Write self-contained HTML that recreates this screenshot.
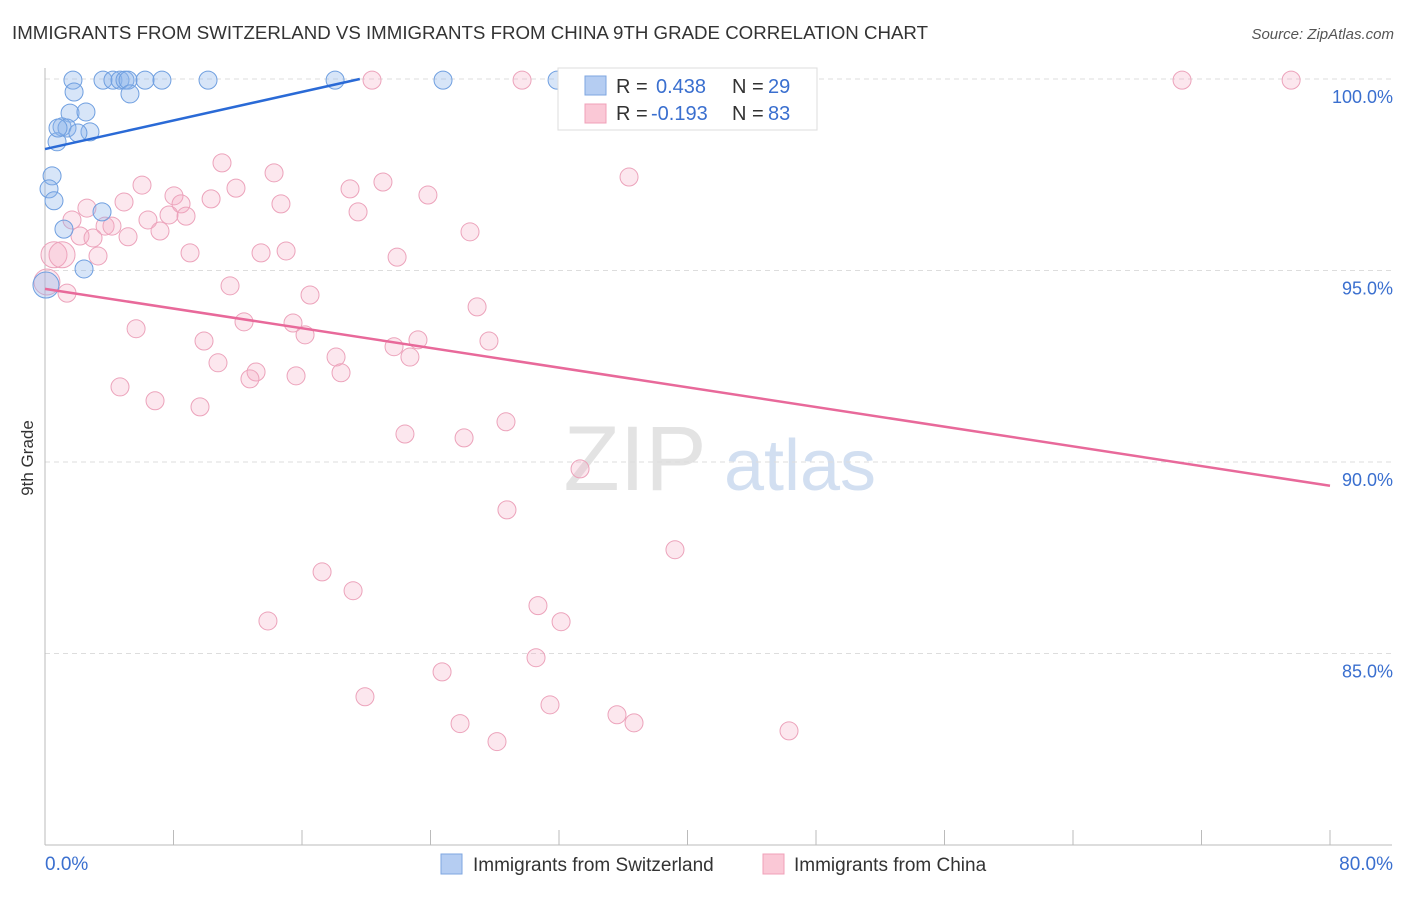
<!DOCTYPE html>
<html><head><meta charset="utf-8"><style>
body{margin:0;background:#fff;font-family:"Liberation Sans",sans-serif}
svg text{font-family:"Liberation Sans",sans-serif}
</style></head><body>
<svg id="c" width="1406" height="892">
<text x="12" y="39" font-size="18" fill="#333" textLength="916" lengthAdjust="spacingAndGlyphs">IMMIGRANTS FROM SWITZERLAND VS IMMIGRANTS FROM CHINA 9TH GRADE CORRELATION CHART</text>
<text x="1394" y="39" font-size="15" fill="#555" font-style="italic" text-anchor="end">Source: ZipAtlas.com</text>
<text x="33" y="458" font-size="17" fill="#333" text-anchor="middle" transform="rotate(-90 33 458)">9th Grade</text>
<g><text x="635" y="490" font-size="92" fill="#ddd" font-family="Liberation Serif" text-anchor="middle" opacity="0.8">ZIP</text><text x="800" y="490" font-size="72" fill="#c8d8ee" text-anchor="middle" opacity="0.8">atlas</text></g>
<g id="grid"></g><g id="pts"></g><g id="lines"></g>
<g>
<rect x="558" y="68" width="259" height="62" fill="#fff" stroke="#ddd"/>
<rect x="585" y="76" width="21" height="19" fill="#b5cdf2" stroke="#7ea6e0"/>
<rect x="585" y="104" width="21" height="19" fill="#fac8d6" stroke="#f0a0b8"/>
<text x="616" y="93" font-size="20" fill="#333">R = </text><text x="656" y="93" font-size="20" fill="#3a6fcf">0.438</text>
<text x="732" y="93" font-size="20" fill="#333">N = </text><text x="768" y="93" font-size="20" fill="#3a6fcf">29</text>
<text x="616" y="120" font-size="20" fill="#333">R = </text><text x="651" y="120" font-size="20" fill="#3a6fcf">-0.193</text>
<text x="732" y="120" font-size="20" fill="#333">N = </text><text x="768" y="120" font-size="20" fill="#3a6fcf">83</text>
</g>
<g>
<rect x="441" y="854" width="21" height="20" fill="#b5cdf2" stroke="#7ea6e0"/>
<text x="473" y="871" font-size="19" fill="#333">Immigrants from Switzerland</text>
<rect x="763" y="854" width="21" height="20" fill="#fac8d6" stroke="#f0a0b8"/>
<text x="794" y="871" font-size="19" fill="#333">Immigrants from China</text>
</g>
</svg>
<script>
const yTicks=[100,95,90,85];
const xTickLabels=["0.0%","80.0%"];
const swX=[1.74,3.61,4.23,4.67,4.98,5.17,6.23,7.28,10.15,18.06,24.78,31.88,1.81,5.29,1.56,2.55,1.06,1.37,2.80,2.05,0.75,0.44,0.25,0.56,1.18,3.55,2.43,0.06,0.81];
const swY=[99.97,99.97,99.97,99.97,99.97,99.97,99.97,99.97,99.97,99.97,99.97,99.97,99.66,99.61,99.11,99.14,98.75,98.72,98.62,98.59,98.36,97.47,97.13,96.82,96.08,96.53,95.04,94.62,98.72];
const cnX=[20.36,29.70,33.00,40.90,70.79,77.58,0.56,1.06,0.12,1.37,11.02,14.26,6.04,11.89,18.99,21.04,23.84,36.36,8.03,10.34,8.47,4.92,2.61,14.69,19.49,1.68,6.41,7.72,8.78,3.74,4.17,7.16,2.18,2.99,5.17,26.46,9.03,13.45,15.01,21.92,3.30,11.52,16.50,26.90,5.67,12.39,15.44,16.19,9.90,21.73,23.22,27.64,18.12,22.72,10.77,13.14,18.43,12.76,15.63,4.67,6.85,9.65,22.41,26.09,28.70,33.31,28.76,39.22,17.25,19.18,30.69,13.88,32.13,30.57,24.72,19.92,31.44,35.61,25.84,36.67,28.14,46.32];
const cnY=[99.97,99.97,99.97,99.97,99.97,99.97,95.41,95.41,94.70,94.41,97.81,97.55,97.23,97.15,97.13,97.31,96.97,97.44,96.95,96.87,96.74,96.79,96.63,96.74,96.53,96.32,96.32,96.45,96.42,96.16,96.16,96.03,95.90,95.85,95.88,96.01,95.46,95.46,95.51,95.35,95.38,94.60,94.36,94.05,93.48,93.66,93.63,93.32,93.16,93.01,93.19,93.16,92.74,92.74,92.59,92.35,92.33,92.17,92.25,91.96,91.60,91.44,90.73,90.63,91.05,89.82,88.75,87.71,87.13,86.64,86.25,85.85,85.83,84.89,84.52,83.87,83.66,83.40,83.17,83.19,82.70,82.98];
const swTrend=[[0,98.17],[19.6,100]];
const cnTrend=[[0,94.52],[80,89.38]];
const X=v=>45+v/80*1285, Y=v=>79+(100-v)*38.3;
const NS="http://www.w3.org/2000/svg";
function mk(p,t,a){const e=document.createElementNS(NS,t);for(const k in a)e.setAttribute(k,a[k]);p.appendChild(e);return e;}
const g=document.getElementById('grid');
yTicks.forEach(t=>{const l=mk(g,'line',{x1:45,x2:1392,y1:Y(t),y2:Y(t),stroke:'#ddd','stroke-dasharray':'5,4'});


const tx=mk(g,'text',{x:1393,y:Y(t)+24,'font-size':18,fill:'#3a6fcf','text-anchor':'end'});tx.textContent=t.toFixed(1)+'%';

});
const ax=mk(g,'line',{x1:45,x2:45,y1:68,y2:845,stroke:'#bbb'});


const bx=mk(g,'line',{x1:45,x2:1392,y1:845,y2:845,stroke:'#bbb'});


for(let i=0;i<=10;i++){const t=mk(g,'line',{x1:X(i*8),x2:X(i*8),y1:830,y2:845,stroke:'#bbb'});

}
[[0,'start',45],[80,'end',1393]].forEach((d,i)=>{const t=mk(g,'text',{x:d[2],y:870,'font-size':19,fill:'#3a6fcf','text-anchor':d[1]});t.textContent=xTickLabels[i];

});
const p=document.getElementById('pts');
function dots(xs,ys,fill,stroke,name){xs.forEach((x,i)=>{const big=(name==='china-point'&&x<1.2&&ys[i]<96)||(name==='switzerland-point'&&x<0.1);
const c=mk(p,'circle',{cx:X(x),cy:Y(ys[i]),r:big?13:9,fill:fill,stroke:stroke,'stroke-width':1});

});}
dots(cnX,cnY,'rgba(245,170,195,0.28)','#eca3bb','china-point');
dots(swX,swY,'rgba(140,180,235,0.35)','#6f9fe0','switzerland-point');
const L=document.getElementById('lines');
const l1=mk(L,'line',{x1:X(swTrend[0][0]),y1:Y(swTrend[0][1]),x2:X(swTrend[1][0]),y2:Y(swTrend[1][1]),stroke:'#2a6ad6','stroke-width':2.5});


const l2=mk(L,'line',{x1:X(cnTrend[0][0]),y1:Y(cnTrend[0][1]),x2:X(cnTrend[1][0]),y2:Y(cnTrend[1][1]),stroke:'#e8699a','stroke-width':2.5});


</script>
</body></html>
